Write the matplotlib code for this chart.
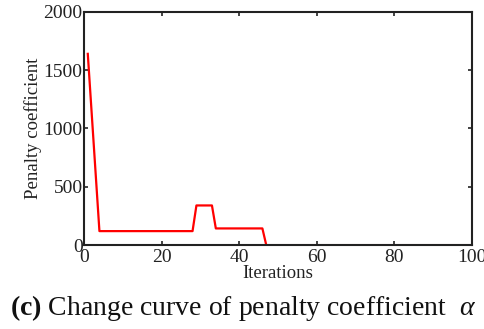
import matplotlib.pyplot as plt

plt.rcParams['font.family'] = ['Liberation Serif', 'DejaVu Serif']
plt.rcParams['mathtext.fontset'] = 'custom'
plt.rcParams['mathtext.rm'] = 'Liberation Serif'
plt.rcParams['mathtext.it'] = 'Liberation Serif:italic'
plt.rcParams['mathtext.bf'] = 'Liberation Serif:bold'

# penalty coefficient (breakpoints)
iterations = [1, 4, 28, 29, 33, 34, 46, 47, 100]
penalty = [1640, 120, 120, 340, 340, 143, 143, 0, 0]

x_ticks = [0, 20, 40, 60, 80, 100]
y_ticks = [0, 500, 1000, 1500, 2000]

fig = plt.figure(figsize=(4.85, 3.29), dpi=100)
ax = fig.add_axes([0.173, 0.255, 0.80, 0.709])

ax.plot(iterations, penalty, color='#ff0000', linewidth=1.6)

ax.set_xlim(0, 100)
ax.set_ylim(0, 2000)
ax.set_xticks(x_ticks)
ax.set_yticks(y_ticks)
ax.tick_params(direction='in', top=True, right=True, length=3, width=1.2,
               labelsize=14, colors='#222222', pad=1)
ax.tick_params(axis='x', pad=3)
for s in ax.spines.values():
    s.set_linewidth(1.5)
    s.set_color('#222222')

ax.set_xlabel('Iterations', fontsize=13.5, labelpad=-1, color='#222222')
ax.set_ylabel('Penalty coefficient', fontsize=13.5, labelpad=1, color='#222222')

fig.text(0.02, 0.065, r'$\mathbf{(c)}$ Change curve of penalty coefficient  $\alpha$',
         fontsize=20, va='center', ha='left', color='#111111')

fig.savefig('out.png', dpi=100)
